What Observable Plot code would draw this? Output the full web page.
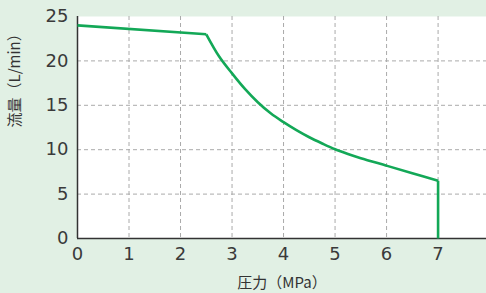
<!DOCTYPE html>
<html><head><meta charset="utf-8">
<script src="https://cdn.jsdelivr.net/npm/d3@7"></script>
<script src="https://cdn.jsdelivr.net/npm/@observablehq/plot@0.6"></script>
<style>
html,body{margin:0;padding:0;background:#e1f0e4;}
svg{display:block;}
</style>
</head><body>
<div id="chart"></div>
<script>
const pressure = [0, 2.5, 2.75, 3, 3.25, 3.5, 3.75, 4, 4.25, 4.5, 4.75, 5, 5.25, 5.5, 6, 6.5, 7, 7];
const flow     = [24, 23, 20.5, 18.6, 16.85, 15.35, 14.1, 13.1, 12.2, 11.4, 10.7, 10.05, 9.52, 9.05, 8.2, 7.35, 6.5, 0];
const xTicks = [0, 1, 2, 3, 4, 5, 6, 7];
const yTicks = [0, 5, 10, 15, 20, 25];
const xLabel = "圧力（MPa）";
const yLabel = "流量（L/min）";

const data = pressure.map((p, i) => ({p, f: flow[i], i}));
const last = data.length - 1;
const straight = data.filter(d => d.i <= 1);
const curved = data.filter(d => d.i >= 1 && d.i <= last - 1);
const drop = data.filter(d => d.i >= last - 1);
const font = "'Noto Sans CJK JP', 'Noto Sans', sans-serif";
const numFont = "DejaVu Sans";

const lineStyle = {x: "p", y: "f", stroke: "#13a857", strokeWidth: 2.6, strokeLinejoin: "round", strokeLinecap: "butt"};

const chart = Plot.plot({
  width: 486,
  height: 293,
  marginLeft: 77,
  marginTop: 16,
  marginBottom: 55,
  marginRight: 0,
  style: {background: "#e1f0e4", fontFamily: font, color: "#333"},
  x: {domain: [0, 7.94]},
  y: {domain: [0, 25]},
  marks: [
    Plot.frame({fill: "white", stroke: "none"}),
    Plot.gridX(xTicks.filter(d => d > 0), {stroke: "#aaa", strokeOpacity: 1, strokeDasharray: "4,3", strokeWidth: 1}),
    Plot.gridY(yTicks.filter(d => d > 0 && d < 25), {stroke: "#aaa", strokeOpacity: 1, strokeDasharray: "4,3", strokeWidth: 1}),
    Plot.axisX(xTicks, {tickSize: 0, tickPadding: 9, fontSize: 18, fontFamily: numFont, label: null, fill: "#3a3a3a"}),
    Plot.axisY(yTicks, {tickSize: 0, tickPadding: 9, fontSize: 18, fontFamily: numFont, label: null, fill: "#3a3a3a"}),
    Plot.ruleX([0], {stroke: "#333", strokeWidth: 1.5}),
    Plot.ruleY([0], {stroke: "#333", strokeWidth: 1.5}),
    Plot.line(straight, lineStyle),
    Plot.line(curved, {...lineStyle, curve: "catmull-rom"}),
    Plot.line(drop, lineStyle),
    Plot.text([xLabel], {frameAnchor: "bottom", dy: 45, fontSize: 15, fill: "#333", lineAnchor: "middle"}),
    Plot.text([yLabel], {frameAnchor: "left", dx: -62, rotate: -90, fontSize: 15, fill: "#333"})
  ]
});
document.getElementById("chart").appendChild(chart);
</script>
</body></html>
